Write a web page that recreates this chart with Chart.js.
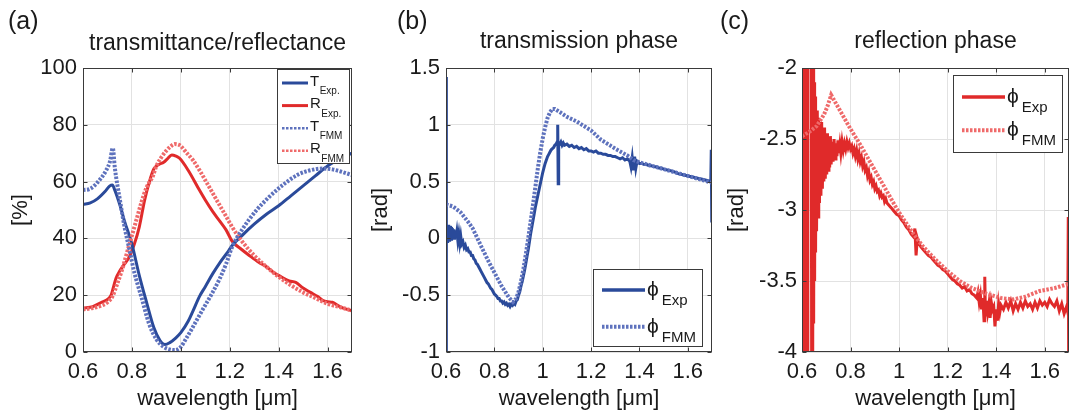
<!DOCTYPE html>
<html>
<head>
<meta charset="utf-8">
<script src="https://cdn.jsdelivr.net/npm/chart.js@4.4.0/dist/chart.umd.min.js"></script>
<style>
  html, body { margin: 0; padding: 0; background: #fff; }
  #wrap { position: relative; width: 1072px; height: 419px; overflow: hidden; }
  canvas { position: absolute; top: 0; }
</style>
</head>
<body>
<div id="wrap">
  <canvas id="ca" width="360" height="419" style="left:0px"></canvas>
  <canvas id="cb" width="360" height="419" style="left:360px"></canvas>
  <canvas id="cc" width="352" height="419" style="left:720px"></canvas>
</div>
<script>
// tick labels
const xTicks = [0.6, 0.8, 1, 1.2, 1.4, 1.6];
const aYTicks = [0, 20, 40, 60, 80, 100];
const bYTicks = [-1, -0.5, 0, 0.5, 1, 1.5];
const cYTicks = [-4, -3.5, -3, -2.5, -2];

// (a) transmittance / reflectance [%]
const aTExpX = [0.6, 0.63, 0.66, 0.69, 0.71, 0.72, 0.73, 0.75, 0.77, 0.8, 0.83, 0.86, 0.89, 0.915, 0.935, 0.955, 0.98, 1.0, 1.03, 1.05, 1.076, 1.1, 1.13, 1.16, 1.19, 1.21, 1.25, 1.3, 1.35, 1.4, 1.45, 1.5, 1.55, 1.6, 1.65, 1.7];
const aTExpY = [52, 52.5, 54, 56.5, 58.5, 58.8, 57, 52, 46, 38, 27, 17.5, 8.5, 4, 2.6, 3.3, 5, 6.8, 10.8, 14.5, 19.5, 23, 27.5, 31.5, 35, 37.5, 41, 45, 48.5, 51.5, 55, 58.5, 62, 65.5, 68, 70];
const aRExpX = [0.6, 0.64, 0.68, 0.7, 0.715, 0.725, 0.735, 0.75, 0.77, 0.79, 0.81, 0.83, 0.852, 0.87, 0.89, 0.91, 0.93, 0.945, 0.963, 0.98, 0.995, 1.03, 1.076, 1.1, 1.13, 1.16, 1.185, 1.21, 1.25, 1.28, 1.32, 1.35, 1.38, 1.41, 1.443, 1.47, 1.5, 1.53, 1.56, 1.58, 1.6, 1.62, 1.65, 1.68, 1.7];
const aRExpY = [15.5, 16, 17.7, 18.5, 20, 23, 26, 28.5, 31, 33.6, 38, 44, 53.5, 59.5, 64.5, 66, 66.8, 68, 69.4, 69, 68.2, 64, 57, 53.5, 49.5, 46, 43, 39, 36, 34, 31.5, 30, 28, 26.5, 25, 24.5, 22.5, 21, 19.5, 18.2, 17.7, 17.5, 16, 15, 14.6];
const aTFmmX = [0.6, 0.63, 0.668, 0.695, 0.71, 0.722, 0.73, 0.75, 0.77, 0.79, 0.81, 0.84, 0.87, 0.9, 0.93, 0.96, 0.975, 1.0, 1.02, 1.042, 1.07, 1.1, 1.13, 1.16, 1.185, 1.21, 1.25, 1.31, 1.36, 1.42, 1.48, 1.53, 1.58, 1.62, 1.66, 1.7];
const aTFmmY = [57, 57.5, 60.6, 64, 67, 71.8, 65, 54, 44, 36, 28, 19, 10, 4.5, 1.8, 0.8, 0.7, 1.8, 4.5, 7.7, 12, 16.5, 21, 26, 31, 37, 43, 50, 54.5, 59, 62.5, 64, 64.6, 64.3, 63.4, 62.3];
const aRFmmX = [0.6, 0.64, 0.68, 0.7, 0.72, 0.74, 0.76, 0.78, 0.8, 0.82, 0.84, 0.86, 0.886, 0.9, 0.92, 0.94, 0.96, 0.975, 0.99, 1.0, 1.02, 1.05, 1.08, 1.1, 1.13, 1.16, 1.19, 1.21, 1.25, 1.3, 1.35, 1.4, 1.45, 1.5, 1.55, 1.6, 1.65, 1.7];
const aRFmmY = [15, 15.5, 16.5, 17.5, 19.5, 24, 29, 35, 41, 47, 53, 58, 62, 65.5, 68.5, 70.8, 72.5, 73.2, 73, 72.5, 70.5, 67.5, 63.5, 60.5, 56, 51.5, 47, 44, 39, 34, 30, 26.5, 23.5, 21, 19, 17, 15.8, 14.6];

// (b) transmission phase [rad]
const bExpX = [0.6, 0.6005, 0.601, 0.603, 0.605, 0.607, 0.609, 0.611, 0.613, 0.615, 0.617, 0.619, 0.621, 0.623, 0.626, 0.629, 0.632, 0.635, 0.638, 0.641, 0.645, 0.649, 0.653, 0.657, 0.661, 0.665, 0.67, 0.675, 0.68, 0.685, 0.69, 0.695, 0.7, 0.705, 0.71, 0.715, 0.72, 0.725, 0.73, 0.735, 0.74, 0.745, 0.75, 0.755, 0.76, 0.765, 0.77, 0.775, 0.78, 0.785, 0.79, 0.795, 0.8, 0.805, 0.81, 0.815, 0.82, 0.825, 0.83, 0.835, 0.84, 0.845, 0.85, 0.855, 0.86, 0.865, 0.87, 0.875, 0.88, 0.885, 0.89, 0.895, 0.9, 0.905, 0.91, 0.915, 0.92, 0.925, 0.93, 0.935, 0.94, 0.945, 0.95, 0.955, 0.96, 0.965, 0.97, 0.975, 0.98, 0.985, 0.99, 0.995, 1.0, 1.005, 1.01, 1.015, 1.02, 1.025, 1.03, 1.035, 1.04, 1.045, 1.05, 1.055, 1.06, 1.062, 1.064, 1.066, 1.07, 1.075, 1.08, 1.085, 1.09, 1.1, 1.11, 1.12, 1.13, 1.14, 1.15, 1.16, 1.17, 1.18, 1.19, 1.2, 1.21, 1.22, 1.23, 1.24, 1.25, 1.26, 1.27, 1.28, 1.29, 1.3, 1.31, 1.32, 1.33, 1.34, 1.35, 1.36, 1.365, 1.37, 1.375, 1.38, 1.385, 1.39, 1.4, 1.41, 1.42, 1.43, 1.44, 1.45, 1.46, 1.47, 1.48, 1.49, 1.5, 1.52, 1.54, 1.56, 1.58, 1.6, 1.62, 1.64, 1.66, 1.68, 1.695, 1.697, 1.699, 1.7];
const bExpY = [1.42, -1.05, 0.12, -0.05, 0.11, -0.04, 0.12, -0.02, 0.1, -0.03, 0.11, 0.0, 0.1, -0.02, 0.09, 0.01, 0.08, -0.01, 0.07, 0.0, 0.06, -0.02, 0.04, -0.04, 0.02, -0.05, -0.03, -0.08, -0.06, -0.1, -0.09, -0.12, -0.12, -0.15, -0.15, -0.18, -0.19, -0.22, -0.23, -0.25, -0.27, -0.29, -0.31, -0.33, -0.35, -0.37, -0.39, -0.4, -0.42, -0.44, -0.45, -0.47, -0.49, -0.5, -0.51, -0.53, -0.53, -0.55, -0.55, -0.57, -0.56, -0.58, -0.57, -0.59, -0.58, -0.6, -0.58, -0.59, -0.57, -0.58, -0.55, -0.54, -0.5, -0.47, -0.42, -0.38, -0.33, -0.28, -0.22, -0.16, -0.1, -0.03, 0.04, 0.1, 0.16, 0.22, 0.28, 0.33, 0.38, 0.43, 0.48, 0.53, 0.58, 0.62, 0.66, 0.69, 0.72, 0.74, 0.76, 0.78, 0.79, 0.8, 0.82, 0.83, 0.85, 1.0, 0.48, 0.84, 0.83, 0.85, 0.82, 0.84, 0.82, 0.83, 0.81, 0.82, 0.8, 0.81, 0.79, 0.8, 0.78, 0.79, 0.77, 0.77, 0.76, 0.77, 0.75, 0.75, 0.74, 0.74, 0.73, 0.73, 0.72, 0.72, 0.71, 0.7, 0.71, 0.69, 0.7, 0.68, 0.63, 0.71, 0.6, 0.72, 0.62, 0.68, 0.66, 0.66, 0.65, 0.65, 0.64, 0.64, 0.63, 0.63, 0.62, 0.62, 0.61, 0.6, 0.59, 0.57, 0.56, 0.55, 0.54, 0.53, 0.52, 0.51, 0.5, 0.78, 0.14, 0.5];
const bFmmX = [0.6, 0.63, 0.66, 0.69, 0.71, 0.73, 0.75, 0.78, 0.8, 0.83, 0.86, 0.877, 0.89, 0.9, 0.91, 0.92, 0.93, 0.94, 0.95, 0.96, 0.97, 0.98, 0.99, 1.0, 1.01, 1.02, 1.03, 1.04, 1.05, 1.072, 1.1, 1.14, 1.2, 1.24, 1.3, 1.35, 1.375, 1.4, 1.45, 1.5, 1.55, 1.6, 1.65, 1.7];
const bFmmY = [0.3, 0.28, 0.23, 0.15, 0.09, 0.0, -0.09, -0.22, -0.3, -0.42, -0.52, -0.56, -0.53, -0.47, -0.38, -0.27, -0.14, 0.0, 0.15, 0.3, 0.46, 0.62, 0.76, 0.88, 0.98, 1.06, 1.11, 1.14, 1.14, 1.11, 1.07, 1.03, 0.95, 0.87, 0.79, 0.73, 0.69, 0.67, 0.64, 0.61, 0.58, 0.55, 0.52, 0.49];

// (c) reflection phase [rad]
const cExpX = [0.6, 0.602, 0.604, 0.606, 0.608, 0.61, 0.612, 0.614, 0.616, 0.618, 0.62, 0.622, 0.624, 0.626, 0.638, 0.64, 0.642, 0.644, 0.646, 0.648, 0.65, 0.652, 0.654, 0.656, 0.658, 0.66, 0.663, 0.666, 0.669, 0.672, 0.675, 0.678, 0.681, 0.684, 0.687, 0.69, 0.693, 0.696, 0.699, 0.702, 0.705, 0.708, 0.711, 0.714, 0.717, 0.72, 0.724, 0.728, 0.732, 0.736, 0.74, 0.744, 0.748, 0.752, 0.756, 0.76, 0.765, 0.77, 0.775, 0.78, 0.785, 0.79, 0.795, 0.8, 0.805, 0.81, 0.815, 0.82, 0.825, 0.83, 0.835, 0.84, 0.845, 0.85, 0.855, 0.86, 0.865, 0.87, 0.875, 0.88, 0.885, 0.89, 0.895, 0.9, 0.905, 0.91, 0.915, 0.92, 0.925, 0.93, 0.935, 0.94, 0.945, 0.95, 0.96, 0.97, 0.98, 0.99, 1.0, 1.01, 1.02, 1.03, 1.04, 1.05, 1.06, 1.065, 1.07, 1.075, 1.08, 1.09, 1.1, 1.11, 1.12, 1.13, 1.14, 1.15, 1.16, 1.17, 1.18, 1.19, 1.2, 1.21, 1.22, 1.23, 1.24, 1.25, 1.26, 1.27, 1.28, 1.29, 1.3, 1.31, 1.32, 1.325, 1.33, 1.335, 1.34, 1.345, 1.35, 1.353, 1.356, 1.36, 1.365, 1.37, 1.375, 1.38, 1.385, 1.39, 1.395, 1.4, 1.405, 1.41, 1.415, 1.42, 1.43, 1.44, 1.45, 1.46, 1.47, 1.48, 1.49, 1.5, 1.51, 1.52, 1.53, 1.54, 1.55, 1.56, 1.57, 1.58, 1.59, 1.6, 1.61, 1.62, 1.63, 1.64, 1.65, 1.66, 1.67, 1.68, 1.69, 1.695, 1.697, 1.699];
const cExpY = [-1.6, -4.4, -1.7, -4.3, -1.6, -4.4, -1.8, -4.2, -1.7, -3.9, -1.8, -4.3, -1.9, -1.6, -1.6, -4.4, -1.9, -4.2, -2.0, -3.8, -2.1, -3.5, -2.2, -3.3, -2.3, -3.15, -2.3, -3.05, -2.35, -2.95, -2.4, -2.9, -2.38, -2.85, -2.45, -2.8, -2.42, -2.78, -2.47, -2.75, -2.46, -2.72, -2.5, -2.7, -2.48, -2.68, -2.52, -2.66, -2.5, -2.64, -2.53, -2.62, -2.51, -2.6, -2.54, -2.6, -2.52, -2.58, -2.53, -2.57, -2.52, -2.56, -2.53, -2.57, -2.55, -2.6, -2.57, -2.62, -2.58, -2.64, -2.6, -2.66, -2.63, -2.69, -2.66, -2.72, -2.7, -2.76, -2.73, -2.79, -2.77, -2.82, -2.8, -2.85, -2.83, -2.87, -2.86, -2.9, -2.88, -2.91, -2.9, -2.94, -2.92, -2.95, -2.97, -2.99, -3.01, -3.03, -3.04, -3.07, -3.09, -3.12, -3.14, -3.17, -3.19, -3.13, -3.32, -3.2, -3.23, -3.26, -3.28, -3.3, -3.32, -3.33, -3.35, -3.37, -3.39, -3.4, -3.42, -3.43, -3.45, -3.47, -3.49, -3.5, -3.52, -3.53, -3.55, -3.54, -3.57, -3.56, -3.59, -3.6, -3.62, -3.58, -3.65, -3.6, -3.7, -3.62, -3.78, -3.47, -3.75, -3.64, -3.72, -3.66, -3.76, -3.65, -3.7, -3.68, -3.82, -3.7, -3.78, -3.66, -3.72, -3.67, -3.7, -3.65, -3.69, -3.64, -3.71, -3.66, -3.7, -3.65, -3.69, -3.64, -3.68, -3.66, -3.7, -3.65, -3.69, -3.64, -3.67, -3.65, -3.68, -3.63, -3.66, -3.68, -3.64, -3.71, -3.66, -3.73, -3.68, -3.72, -3.05, -4.3];
const cFmmX = [0.6, 0.63, 0.66, 0.69, 0.705, 0.72, 0.74, 0.76, 0.78, 0.8, 0.84, 0.88, 0.92, 0.96, 0.99, 1.02, 1.06, 1.1, 1.15, 1.2, 1.25, 1.3, 1.36, 1.42, 1.47, 1.52, 1.58, 1.64, 1.7];
const cFmmY = [-2.48, -2.45, -2.41, -2.33, -2.27, -2.19, -2.25, -2.31, -2.37, -2.43, -2.54, -2.66, -2.78, -2.9, -2.99, -3.07, -3.17, -3.26, -3.35, -3.43, -3.5, -3.55, -3.59, -3.62, -3.63, -3.61, -3.57, -3.55, -3.52];

const FONT = '"Liberation Sans", Arial, "DejaVu Sans", sans-serif';
const INK = '#1a1a1a';
const AXIS = '#3a3a3a';
const GRID = '#e2e2e2';
const BLUE = '#2a4a9a', BLUE_D = '#5e72bd', RED = '#e02a2a', RED_D = '#ef6a6a';

function series(label, xs, ys, color, dotted, smooth) {
  return {
    label: label,
    data: xs.map((x, i) => ({x: x, y: ys[i]})),
    borderColor: color,
    borderWidth: dotted ? 4 : 3,
    borderDash: dotted ? [2.5, 1.5] : [],
    pointRadius: 0,
    fill: false,
    tension: 0,
    cubicInterpolationMode: smooth ? 'monotone' : 'default',
    order: dotted ? 0 : 1
  };
}

// frame, inner ticks, legend with subscripts, titles
const deco = {
  id: 'deco',
  afterDatasetsDraw(chart, args, o) {
    const {ctx, chartArea: a} = chart;
    const sx = chart.scales.x, sy = chart.scales.y;
    ctx.save();
    ctx.setLineDash([]);
    ctx.strokeStyle = AXIS;
    ctx.lineWidth = 1;
    const L = Math.round(a.left) + 0.5, R = Math.round(a.right) - 0.5;
    const T = Math.round(a.top) + 0.5, B = Math.round(a.bottom) - 0.5;
    ctx.strokeRect(L, T, R - L, B - T);
    ctx.beginPath();
    sx.ticks.forEach(t => {
      const px = Math.round(sx.getPixelForValue(t.value)) + 0.5;
      ctx.moveTo(px, B); ctx.lineTo(px, B - 4);
      ctx.moveTo(px, T); ctx.lineTo(px, T + 4);
    });
    sy.ticks.forEach(t => {
      const py = Math.round(sy.getPixelForValue(t.value)) + 0.5;
      ctx.moveTo(L, py); ctx.lineTo(L + 4, py);
      ctx.moveTo(R, py); ctx.lineTo(R - 4, py);
    });
    ctx.stroke();

    const g = o.legend;
    ctx.fillStyle = '#fff';
    ctx.fillRect(g.x, g.y, g.w, g.h);
    ctx.strokeStyle = AXIS;
    ctx.strokeRect(g.x + 0.5, g.y + 0.5, g.w, g.h);
    chart.data.datasets.forEach((d, i) => {
      const y = g.y0 + i * g.dy;
      const dotted = d.borderDash.length > 0;
      ctx.beginPath();
      ctx.strokeStyle = d.borderColor;
      ctx.lineWidth = dotted ? g.dotW : g.solidW;
      ctx.setLineDash(d.borderDash);
      ctx.moveTo(g.x1, y); ctx.lineTo(g.x2, y);
      ctx.stroke();
      ctx.setLineDash([]);
      const parts = d.label.split('_');
      ctx.fillStyle = INK;
      ctx.textAlign = 'left';
      ctx.textBaseline = 'alphabetic';
      ctx.font = g.mainFont;
      ctx.fillText(parts[0], g.tx, y + g.mainDy);
      const w = ctx.measureText(parts[0]).width;
      ctx.font = g.subFont;
      ctx.fillText(parts[1], g.tx + w + g.gap, y + g.subDy);
    });

    ctx.fillStyle = INK;
    ctx.textBaseline = 'alphabetic';
    ctx.font = '23px ' + FONT;
    ctx.textAlign = 'center';
    ctx.fillText(o.title, (a.left + a.right) / 2, o.titleY);
    ctx.font = '25px ' + FONT;
    ctx.textAlign = 'left';
    ctx.fillText(o.tag, o.tagX, o.tagY);
    ctx.restore();
  }
};

function panel(id, p) {
  return new Chart(document.getElementById(id), {
    type: 'line',
    data: {datasets: p.datasets},
    options: {
      responsive: false,
      animation: false,
      events: [],
      layout: {padding: {left: 0, top: 68, right: p.padRight, bottom: 0}},
      plugins: {legend: {display: false}, tooltip: {enabled: false}, deco: p.deco},
      scales: {
        x: {
          type: 'linear', min: 0.6, max: 1.7,
          afterBuildTicks: s => { s.ticks = xTicks.map(v => ({value: v})); },
          afterFit: s => { s.height = 67; },
          grid: {color: GRID, drawTicks: false},
          border: {display: false},
          ticks: {padding: 7, color: INK, font: {family: FONT, size: 22}, maxRotation: 0, autoSkip: false, callback: v => String(v)},
          title: {display: true, text: 'wavelength [μm]', color: INK, font: {family: FONT, size: 22}, padding: {top: 0, bottom: 7}}
        },
        y: {
          type: 'linear', min: p.yMin, max: p.yMax,
          afterBuildTicks: s => { s.ticks = p.yTicks.map(v => ({value: v})); },
          afterFit: s => { s.width = p.yWidth; },
          grid: {color: GRID, drawTicks: false},
          border: {display: false},
          ticks: {padding: p.yPad, color: INK, font: {family: FONT, size: 22}, autoSkip: false, callback: v => String(v)},
          title: {display: true, text: p.yTitle, color: INK, font: {family: FONT, size: 22}, padding: {top: p.yTitlePad, bottom: 0}}
        }
      }
    },
    plugins: [deco]
  });
}

const smallLegend = {mainFont: '15px ' + FONT, subFont: '10px ' + FONT, mainDy: 2.5, subDy: 11, gap: 0.5, solidW: 3, dotW: 2.5};
const phiLegend = {mainFont: '21px ' + FONT, subFont: '15px ' + FONT, mainDy: 6, subDy: 15, gap: 3, solidW: 3.5, dotW: 4};

panel('ca', {
  datasets: [
    series('T_Exp.', aTExpX, aTExpY, BLUE, false, true),
    series('R_Exp.', aRExpX, aRExpY, RED, false, true),
    series('T_FMM', aTFmmX, aTFmmY, BLUE_D, true, true),
    series('R_FMM', aRFmmX, aRFmmY, RED_D, true, true)
  ],
  yMin: 0, yMax: 100, yTicks: aYTicks, yWidth: 83, yPad: 6, yTitle: '[%]', yTitlePad: 8, padRight: 8,
  deco: {
    title: 'transmittance/reflectance', titleY: 50, tag: '(a)', tagX: 8, tagY: 29,
    legend: Object.assign({x: 277, y: 69, w: 72, h: 94, x1: 282, x2: 308, tx: 310, y0: 83, dy: 22.6}, smallLegend)
  }
});

panel('cb', {
  datasets: [
    series('ϕ_Exp', bExpX, bExpY, BLUE, false, false),
    series('ϕ_FMM', bFmmX, bFmmY, BLUE_D, true, false)
  ],
  yMin: -1, yMax: 1.5, yTicks: bYTicks, yWidth: 86, yPad: 6, yTitle: '[rad]', yTitlePad: 8, padRight: 8,
  deco: {
    title: 'transmission phase', titleY: 48, tag: '(b)', tagX: 37, tagY: 29,
    legend: Object.assign({x: 233, y: 269, w: 109, h: 77, x1: 242, x2: 285, tx: 287, y0: 290, dy: 36.7}, phiLegend)
  }
});

panel('cc', {
  datasets: [
    series('ϕ_Exp', cExpX, cExpY, RED, false, false),
    series('ϕ_FMM', cFmmX, cFmmY, RED_D, true, false)
  ],
  yMin: -4, yMax: -2, yTicks: cYTicks, yWidth: 82, yPad: 5, yTitle: '[rad]', yTitlePad: 4, padRight: 3,
  deco: {
    title: 'reflection phase', titleY: 48, tag: '(c)', tagX: 0, tagY: 29,
    legend: Object.assign({x: 233, y: 75, w: 109, h: 77, x1: 242, x2: 285, tx: 287, y0: 97, dy: 33.3}, phiLegend)
  }
});
</script>
</body>
</html>
